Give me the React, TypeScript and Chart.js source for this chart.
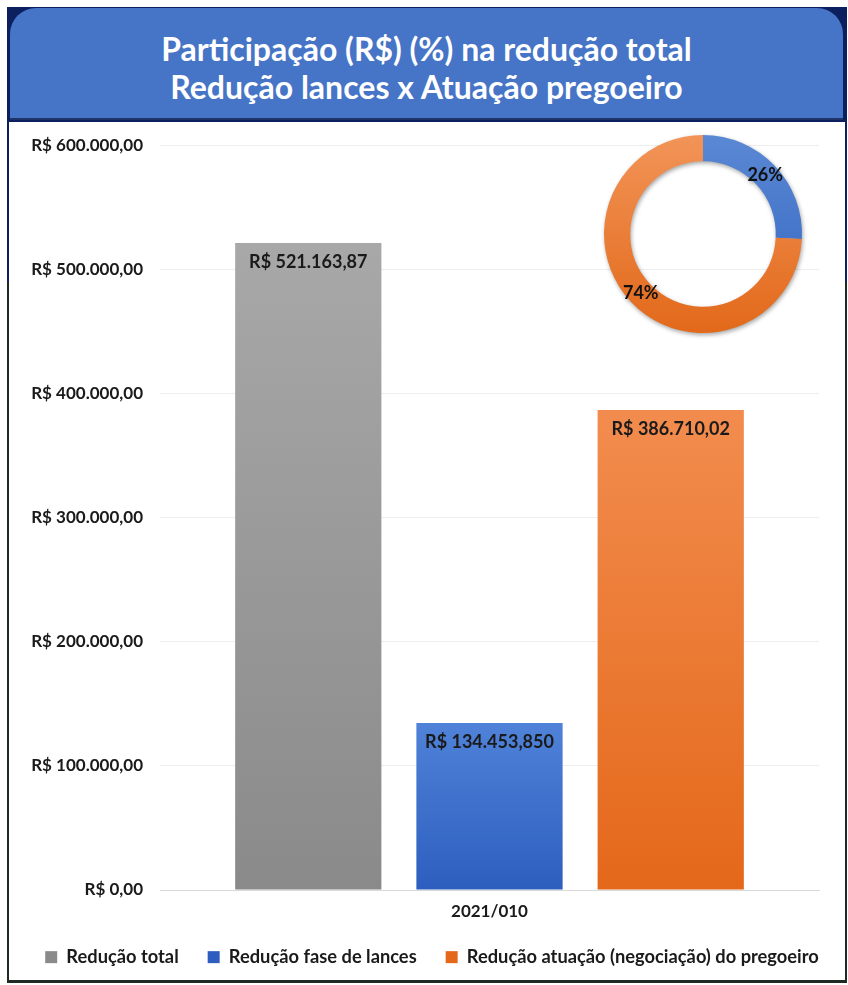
import React, { useEffect, useRef } from "react";
import { Chart, registerables } from "chart.js";

Chart.register(...registerables);

const categories = ["2021/010"];
const seriesNames = [
  "Redução total",
  "Redução fase de lances",
  "Redução atuação (negociação) do pregoeiro",
];
const reducaoTotal = [521163.87];
const reducaoLances = [134453.85];
const reducaoPregoeiro = [386710.02];
const valueLabels = ["R$ 521.163,87", "R$ 134.453,850", "R$ 386.710,02"];
const donutNames = ["Redução fase de lances", "Redução atuação (negociação) do pregoeiro"];
const donutValues = [134453.85, 386710.02];
const donutLabels = ["26%", "74%"];
const yMin = 0;
const yMax = 600000;
const yStep = 100000;

const FONT = "Lato, 'Open Sans', sans-serif";

function fmtBRL(v: number): string {
  const intPart = Math.floor(Math.abs(v));
  const dec = Math.round((Math.abs(v) - intPart) * 100);
  const s = String(intPart).replace(/\B(?=(\d{3})+(?!\d))/g, ".");
  return "R$ " + s + "," + String(dec).padStart(2, "0");
}

const barColors = [
  ["#a8a8a8", "#8a8a8a"],
  ["#4f82d8", "#2d5ebf"],
  ["#f28c4e", "#e4681a"],
];

export default function App() {
  const barRef = useRef<HTMLCanvasElement>(null);
  const donutRef = useRef<HTMLCanvasElement>(null);

  useEffect(() => {
    const seriesData = [reducaoTotal, reducaoLances, reducaoPregoeiro];
    const valueLabelPlugin = {
      id: "valueLabels",
      afterDatasetsDraw(chart: any) {
        const ctx = chart.ctx;
        ctx.save();
        ctx.font = `bold 18px ${FONT}`;
        ctx.fillStyle = "#1a1a1a";
        ctx.textAlign = "center";
        ctx.textBaseline = "middle";
        chart.data.datasets.forEach((_ds: any, i: number) => {
          const meta = chart.getDatasetMeta(i);
          meta.data.forEach((el: any) => {
            ctx.fillText(valueLabels[i], el.x, el.y + 19);
          });
        });
        ctx.restore();
      },
    };

    const bar = new Chart(barRef.current!, {
      type: "bar",
      data: {
        labels: categories,
        datasets: seriesData.map((d, i) => ({
          label: seriesNames[i],
          data: d,
          xAxisID: "x",
          yAxisID: "y",
          backgroundColor: (c: any) => {
            const chart = c.chart;
            const area = chart.chartArea;
            if (!area || c.raw === undefined) return barColors[i][1];
            const top = chart.scales.y.getPixelForValue(c.raw);
            const g = chart.ctx.createLinearGradient(0, top, 0, area.bottom);
            g.addColorStop(0, barColors[i][0]);
            g.addColorStop(1, barColors[i][1]);
            return g;
          },
          borderWidth: 0,
          categoryPercentage: 0.825,
          barPercentage: 0.807,
        })),
      },
      options: {
        responsive: false,
        animation: false,
        devicePixelRatio: 1,
        layout: { padding: { left: 0, right: 0, top: 16, bottom: 0 } },
        plugins: {
          tooltip: { enabled: false },
          legend: {
            position: "bottom",
            maxHeight: 55,
            labels: {
              font: { family: FONT, size: 18.3, weight: "bold" },
              color: "#1a1a1a",
              boxWidth: 12,
              boxHeight: 12,
              padding: 29,
            },
          },
        },
        scales: {
          x: {
            afterFit: (s: any) => {
              s.height = 29;
            },
            grid: { display: false, drawTicks: false },
            border: { display: true, color: "#d9d9d9" },
            ticks: {
              font: { family: FONT, size: 17, weight: "bold" },
              color: "#1a1a1a",
              padding: 11,
            },
          },
          y: {
            position: "left",
            min: yMin,
            max: yMax,
            afterFit: (s: any) => {
              s.width = 168;
            },
            grid: { color: "#eeeeee", drawTicks: false },
            border: { display: false },
            ticks: {
              stepSize: yStep,
              padding: 17,
              font: { family: FONT, size: 17, weight: "bold" },
              color: "#1a1a1a",
              callback: (v: any) => fmtBRL(Number(v)),
            },
          },
          ySpacer: {
            type: "linear",
            position: "right",
            min: yMin,
            max: yMax,
            afterFit: (s: any) => {
              s.width = 53;
            },
            grid: { display: false, drawTicks: false },
            border: { display: false },
            ticks: { display: false },
          },
        },
      },
      plugins: [valueLabelPlugin],
    } as any);

    const donutLabelPlugin = {
      id: "donutLabels",
      afterDatasetsDraw(chart: any) {
        const ctx = chart.ctx;
        ctx.save();
        ctx.font = `bold 18px ${FONT}`;
        ctx.fillStyle = "#111111";
        ctx.textAlign = "center";
        ctx.textBaseline = "middle";
        chart.getDatasetMeta(0).data.forEach((el: any, i: number) => {
          const p = el.tooltipPosition();
          ctx.fillText(donutLabels[i], p.x, p.y);
        });
        ctx.restore();
      },
    };

    const donutColors = [
      ["#5a88d4", "#3264c0"],
      ["#f29458", "#e2691a"],
    ];
    const donut = new Chart(donutRef.current!, {
      type: "doughnut",
      data: {
        labels: donutNames,
        datasets: [
          {
            data: donutValues,
            backgroundColor: (c: any) => {
              const area = c.chart.chartArea;
              const i = c.dataIndex;
              if (!area || i === undefined) return donutColors[0][1];
              const g = c.chart.ctx.createLinearGradient(0, area.top, 0, area.bottom);
              g.addColorStop(0, donutColors[i][0]);
              g.addColorStop(1, donutColors[i][1]);
              return g;
            },
            borderWidth: 0,
          },
        ],
      },
      options: {
        responsive: false,
        animation: false,
        devicePixelRatio: 1,
        cutout: "73.5%",
        layout: { padding: 6 },
        plugins: { legend: { display: false }, tooltip: { enabled: false } },
      },
      plugins: [donutLabelPlugin],
    } as any);

    return () => {
      bar.destroy();
      donut.destroy();
    };
  }, []);

  return (
    <div style={{ position: "absolute", left: 0, top: 0, width: 848, height: 985, background: "#ffffff", overflow: "hidden" }}>
      <div
        style={{
          position: "absolute",
          left: 7,
          top: 7,
          width: 840,
          height: 976,
          background: "linear-gradient(to bottom, #0c1f5e 0px, #0c1f5e 275px, #1e2a22 275px, #1e2a22 100%)",
        }}
      />
      <div style={{ position: "absolute", left: 9, top: 122, width: 836, height: 858, background: "#ffffff" }} />
      <div
        style={{
          position: "absolute",
          left: 10,
          top: 8,
          width: 833,
          height: 112,
          background: "#4674c6",
          borderRadius: "26px 26px 0 0",
          borderBottom: "2px solid #1f3468",
          color: "#ffffff",
          fontFamily: FONT,
          fontWeight: "bold",
          fontSize: 32,
          lineHeight: "38px",
          textAlign: "center",
          display: "flex",
          flexDirection: "column",
          justifyContent: "center",
          paddingTop: 10,
          boxSizing: "border-box",
        }}
      >
        <div>Participação (R$) (%) na redução total</div>
        <div>Redução lances x Atuação pregoeiro</div>
      </div>
      <div style={{ position: "absolute", left: 9, top: 122, width: 836, height: 858, overflow: "hidden" }}>
        <canvas ref={barRef} width={880} height={856} style={{ position: "absolute", left: -17, top: -4 }} />
      </div>
      <canvas
        ref={donutRef}
        width={210}
        height={210}
        style={{ position: "absolute", left: 598, top: 129, filter: "drop-shadow(1px 2px 2px rgba(0,0,0,0.35))" }}
      />
    </div>
  );
}
